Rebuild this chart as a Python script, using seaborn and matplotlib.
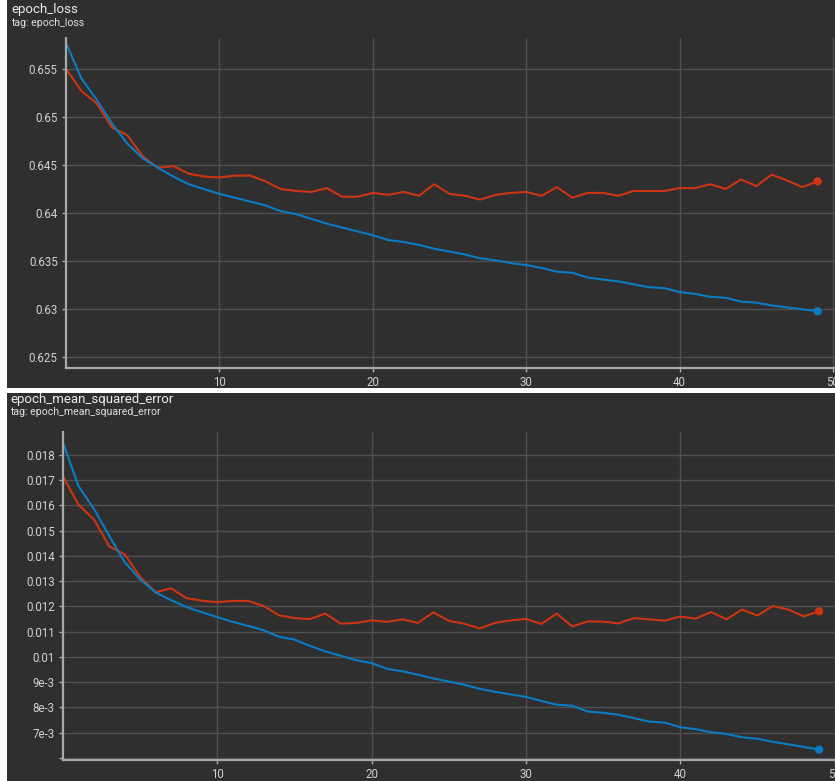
import numpy as np
import pandas as pd
import matplotlib
matplotlib.use('Agg')
import matplotlib.pyplot as plt
from matplotlib.patches import Rectangle
import seaborn as sns

# values
epochs = list(range(50))

loss_train = [0.6577, 0.6540, 0.6518, 0.6493, 0.6472, 0.6457, 0.6447, 0.6438, 0.6430, 0.6425,
              0.6420, 0.6416, 0.6412, 0.6408, 0.6402, 0.6399, 0.6394, 0.6389, 0.6385, 0.6381,
              0.6377, 0.6372, 0.6370, 0.6367, 0.6363, 0.6360, 0.6357, 0.6353, 0.6351, 0.6348,
              0.6346, 0.6343, 0.6339, 0.6338, 0.6333, 0.6331, 0.6329, 0.6326, 0.6323, 0.6322,
              0.6318, 0.6316, 0.6313, 0.6312, 0.6308, 0.6307, 0.6304, 0.6302, 0.6300, 0.6298]
loss_val = [0.6550, 0.6527, 0.6514, 0.6489, 0.6481, 0.6459, 0.6447, 0.6449, 0.6441, 0.6438,
            0.6437, 0.6439, 0.6439, 0.6433, 0.6425, 0.6423, 0.6422, 0.6426, 0.6417, 0.6417,
            0.6421, 0.6419, 0.6422, 0.6418, 0.6430, 0.6420, 0.6418, 0.6414, 0.6419, 0.6421,
            0.6422, 0.6418, 0.6427, 0.6416, 0.6421, 0.6421, 0.6418, 0.6423, 0.6423, 0.6423,
            0.6426, 0.6426, 0.6430, 0.6425, 0.6435, 0.6428, 0.6440, 0.6434, 0.6427, 0.6433]

mse_train = [0.01849, 0.01677, 0.01587, 0.01479, 0.01375, 0.01307, 0.01256, 0.01225, 0.01198, 0.01177,
             0.01158, 0.01139, 0.01123, 0.01106, 0.01080, 0.01069, 0.01044, 0.01022, 0.01005, 0.00987,
             0.00976, 0.00953, 0.00943, 0.00930, 0.00915, 0.00903, 0.00890, 0.00874, 0.00862, 0.00852,
             0.00842, 0.00826, 0.00811, 0.00807, 0.00784, 0.00779, 0.00771, 0.00758, 0.00744, 0.00740,
             0.00722, 0.00714, 0.00702, 0.00695, 0.00682, 0.00676, 0.00664, 0.00654, 0.00644, 0.00633]
mse_val = [0.01715, 0.01603, 0.01545, 0.01438, 0.01407, 0.01317, 0.01256, 0.01272, 0.01233, 0.01223,
           0.01217, 0.01222, 0.01222, 0.01202, 0.01165, 0.01154, 0.01150, 0.01172, 0.01132, 0.01135,
           0.01145, 0.01139, 0.01149, 0.01135, 0.01177, 0.01143, 0.01132, 0.01113, 0.01135, 0.01145,
           0.01151, 0.01131, 0.01172, 0.01121, 0.01141, 0.01140, 0.01133, 0.01154, 0.01149, 0.01144,
           0.01160, 0.01152, 0.01178, 0.01149, 0.01188, 0.01164, 0.01202, 0.01188, 0.01161, 0.01181]

loss_ticks = [0.625, 0.63, 0.635, 0.64, 0.645, 0.65, 0.655]
loss_labels = ['0.625', '0.63', '0.635', '0.64', '0.645', '0.65', '0.655']
mse_ticks = [0.006, 0.007, 0.008, 0.009, 0.010, 0.011, 0.012, 0.013, 0.014, 0.015, 0.016, 0.017, 0.018]
mse_labels = ['', '7e-3', '8e-3', '9e-3', '0.01', '0.011', '0.012', '0.013', '0.014',
              '0.015', '0.016', '0.017', '0.018']
x_ticks = [10, 20, 30, 40, 50]

BLUE = '#0b7bc4'
RED = '#cc3412'
BG = '#2f2f2f'

sns.set_theme(style='dark')
plt.rcParams['font.family'] = ['Roboto', 'DejaVu Sans']

W, H = 835, 781
fig = plt.figure(figsize=(W / 100, H / 100), dpi=100, facecolor='white')


def px_rect(x0, y0, x1, y1):
    # pixel box (top-left origin) -> figure fraction rect
    return [x0 / W, 1 - y1 / H, (x1 - x0) / W, (y1 - y0) / H]


# the two dark cards, behind everything
for (y0, y1) in [(0, 388), (393, 781)]:
    r = px_rect(7, y0, W, y1)
    fig.patches.append(Rectangle((r[0], r[1]), r[2], r[3], transform=fig.transFigure,
                                 facecolor=BG, edgecolor='none', zorder=-10))


def draw_panel(rect, train, val, ylim, yticks, ylabels, xmax):
    ax = fig.add_axes(rect)
    ax.set_zorder(1)
    ax.set_facecolor(BG)
    df = pd.DataFrame({'epoch': epochs, 'train': train, 'val': val})
    sns.lineplot(data=df, x='epoch', y='val', color=RED, lw=1.5, ax=ax)
    sns.lineplot(data=df, x='epoch', y='train', color=BLUE, lw=1.5, ax=ax)
    last = df.tail(1)
    sns.scatterplot(data=last, x='epoch', y='val', color=RED, s=36, edgecolor='none', ax=ax, zorder=5)
    sns.scatterplot(data=last, x='epoch', y='train', color=BLUE, s=36, edgecolor='none', ax=ax, zorder=5)
    ax.set_xlim(0, xmax)
    ax.set_ylim(*ylim)
    ax.set_xticks(x_ticks)
    ax.set_xticklabels([str(t) for t in x_ticks])
    ax.set_yticks(yticks)
    ax.set_yticklabels(ylabels)
    ax.set_xlabel('')
    ax.set_ylabel('')
    ax.grid(True, color='#505050', lw=1)
    for s in ['top', 'right']:
        ax.spines[s].set_visible(False)
    for s in ['left', 'bottom']:
        ax.spines[s].set_visible(True)
        ax.spines[s].set_color('#a8a8a8')
        ax.spines[s].set_linewidth(1.6)
    ax.tick_params(axis='both', colors='#a8a8a8', length=3, width=1, labelsize=8.3,
                   labelcolor='#d2d2d2', pad=3, bottom=True, left=True)
    return ax


draw_panel(px_rect(66, 38, 835, 368), loss_train, loss_val, (0.6239, 0.6582),
           loss_ticks, loss_labels, 50.13)
draw_panel(px_rect(63, 432, 835, 760), mse_train, mse_val, (0.00592, 0.01891),
           mse_ticks, mse_labels, 50.03)

# card headers
fig.text(11 / W, 1 - 9 / H, 'epoch_loss', color='#ececec', fontsize=9.5, va='center', ha='left')
fig.text(11 / W, 1 - 23 / H, 'tag: epoch_loss', color='#e0e0e0', fontsize=7.6, va='center', ha='left')
fig.text(10 / W, 1 - 399 / H, 'epoch_mean_squared_error', color='#ececec', fontsize=9.5,
         va='center', ha='left')
fig.text(10 / W, 1 - 412 / H, 'tag: epoch_mean_squared_error', color='#e0e0e0', fontsize=7.6,
         va='center', ha='left')

fig.savefig('out.png', dpi=100, facecolor='white')
plt.close(fig)
